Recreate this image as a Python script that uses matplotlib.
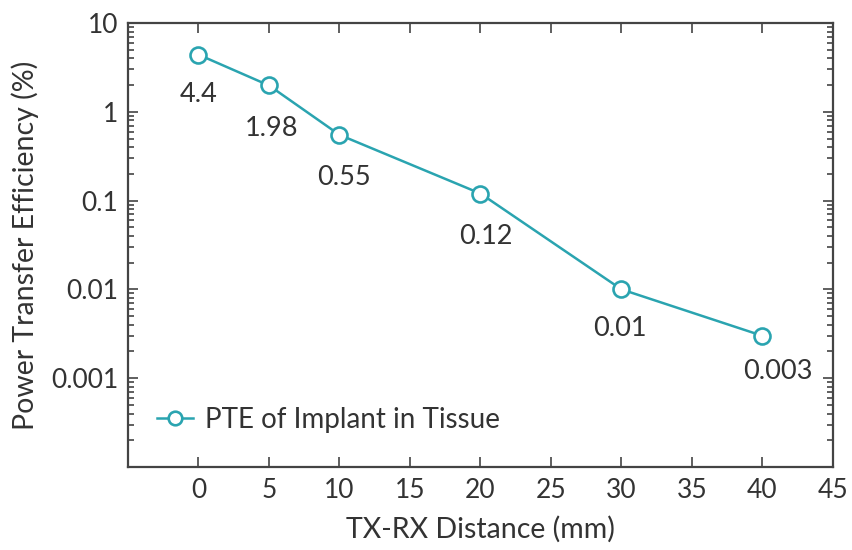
import numpy as np
import matplotlib.pyplot as plt
from matplotlib.ticker import LogLocator, NullFormatter, FixedLocator

plt.rcParams['font.family'] = ['Lato', 'DejaVu Sans']

# TX-RX Abstand und gemessene PTE
distance = [0, 5, 10, 20, 30, 40]
pte = [4.4, 1.98, 0.55, 0.12, 0.01, 0.003]
pte_labels = ["4.4", "1.98", "0.55", "0.12", "0.01", "0.003"]
# versatz der werte-beschriftung (punkte)
label_dx = [0, 2, 3, 4, -1, 11]
label_dy = [-29, -31, -31, -31, -28, -26]

teal = "#2aa4b0"
text_col = "#333333"

fig = plt.figure(figsize=(8.53, 5.5), dpi=100)
ax = fig.add_axes([128/853, 1 - 467/550, (833-128)/853, (467-23)/550])

ax.plot(distance, pte, "-o", color=teal, lw=1.8, ms=11.5, mfc="white",
        mew=1.9, label="PTE of Implant in Tissue")

for x, y, s, dx, dy in zip(distance, pte, pte_labels, label_dx, label_dy):
    ax.annotate(s, (x, y), xytext=(dx, dy), textcoords="offset points",
                ha="center", va="center", fontsize=19.5, color=text_col)

ax.set_yscale("log")
ax.set_xlim(-5, 45)
ax.set_ylim(1e-4, 10)
ax.set_xticks(np.arange(0, 50, 5))
ax.yaxis.set_major_locator(FixedLocator([10, 1, 0.1, 0.01, 0.001, 0.0001]))
ax.set_yticklabels(["10", "1", "0.1", "0.01", "0.001", ""])
ax.yaxis.set_minor_locator(LogLocator(base=10, subs=np.arange(2, 10)))
ax.yaxis.set_minor_formatter(NullFormatter())

ax.tick_params(which="both", direction="in", top=True, right=True,
               colors="#444444", labelcolor=text_col, labelsize=19, width=1.2)
ax.tick_params(which="major", length=7)
ax.tick_params(which="minor", length=4)
ax.tick_params(axis="y", which="major", pad=7)
ax.tick_params(axis="x", which="major", pad=8)

for sp in ax.spines.values():
    sp.set_linewidth(1.6)
    sp.set_color("#444444")

ax.set_xlabel("TX-RX Distance (mm)", fontsize=20.5, color=text_col, labelpad=9)
ax.set_ylabel("Power Transfer Efficiency (%)", fontsize=20.5, color=text_col, labelpad=9)

ax.legend(loc="lower left", bbox_to_anchor=(0.005, 0.02), frameon=False,
          fontsize=20, labelcolor=text_col, handlelength=1.3, handletextpad=0.45,
          markerscale=0.85)

plt.savefig("out.png", dpi=100)
